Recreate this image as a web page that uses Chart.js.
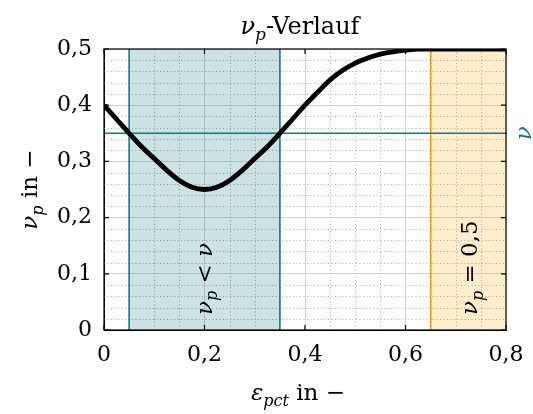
<!DOCTYPE html>
<html lang="de">
<head>
  <meta charset="UTF-8" />
  <title>nu_p-Verlauf</title>
  <style>
    html, body { margin: 0; padding: 0; background: #fff; }
    #wrap { width: 533px; height: 414px; }
  </style>
</head>
<body>
  <div id="wrap"><canvas id="chart" width="533" height="414"></canvas></div>

  <script src="https://cdn.jsdelivr.net/npm/chart.js"></script>
<script>
  // epsilon_pct samples and the nu_p curve read at those points
  const epsPct = [0, 0.025, 0.05, 0.075, 0.1, 0.125, 0.15, 0.175, 0.2, 0.225, 0.25,
    0.275, 0.3, 0.325, 0.35, 0.375, 0.4, 0.425, 0.45, 0.475, 0.5, 0.525, 0.55,
    0.575, 0.6, 0.625, 0.65, 0.675, 0.7, 0.725, 0.75, 0.775, 0.8];
  const nuP = [0.400, 0.375, 0.350, 0.326, 0.305, 0.284, 0.266, 0.254, 0.250, 0.254, 0.266,
    0.284, 0.305, 0.326, 0.350, 0.375, 0.400, 0.423, 0.445, 0.462, 0.475, 0.484, 0.491,
    0.495, 0.498, 0.500, 0.500, 0.500, 0.500, 0.500, 0.500, 0.500, 0.500];

  const nuValue = 0.35;            // horizontal reference line
  const lowBand = [0.05, 0.35];    // region nu_p < nu
  const maxBand = [0.65, 0.8];     // region nu_p = 0,5
  const xRange = [0, 0.8];
  const yRange = [0, 0.5];
  const xTicks = [0, 0.2, 0.4, 0.6, 0.8];
  const yTicks = [0, 0.1, 0.2, 0.3, 0.4, 0.5];

  const TEAL = '#137b7b';
  const ORANGE = '#f7a000';
  const SERIF = '"DejaVu Serif", serif';

  const fmt = v => v === 0 ? '0' : v.toFixed(1).replace('.', ',');

  // text with italic / subscript parts, optionally rotated
  function richText(ctx, parts, x, y, size, color, align, rot) {
    ctx.save();
    ctx.translate(x, y);
    ctx.rotate(rot || 0);
    const fontOf = p => (p[1] ? 'italic ' : '') + (p[2] ? Math.round(size * 0.7) : size) + 'px ' + SERIF;
    let w = 0;
    parts.forEach(p => { ctx.font = fontOf(p); w += ctx.measureText(p[0]).width; });
    let cx = align === 'center' ? -w / 2 : 0;
    ctx.fillStyle = color;
    ctx.textBaseline = 'alphabetic';
    ctx.textAlign = 'left';
    parts.forEach(p => {
      ctx.font = fontOf(p);
      ctx.fillText(p[0], cx, p[2] ? size * 0.24 : 0);
      cx += ctx.measureText(p[0]).width;
    });
    ctx.restore();
  }

  const lineData = (xs, ys) => xs.map((x, i) => ({ x: x, y: ys[i] }));

  // keep the plot box fixed, whatever the tick labels need
  const noPad = s => { s.paddingLeft = 0; s.paddingRight = 0; s.paddingTop = 0; s.paddingBottom = 0; };

  const decorations = {
    id: 'decorations',
    beforeDatasetsDraw(chart) {
      // dotted minor grid
      const { ctx, chartArea: a, scales: { x, y } } = chart;
      ctx.save();
      ctx.strokeStyle = '#a8a8a8';
      ctx.lineWidth = 1;
      ctx.setLineDash([1, 2.5]);
      for (let k = 1; k < 16; k++) {
        if (k % 4 === 0) continue;
        const px = Math.round(x.getPixelForValue(k * 0.05)) + 0.5;
        ctx.beginPath(); ctx.moveTo(px, a.top); ctx.lineTo(px, a.bottom); ctx.stroke();
      }
      for (let k = 1; k < 25; k++) {
        if (k % 5 === 0) continue;
        const py = Math.round(y.getPixelForValue(k * 0.02)) + 0.5;
        ctx.beginPath(); ctx.moveTo(a.left, py); ctx.lineTo(a.right, py); ctx.stroke();
      }
      ctx.restore();
    },
    afterDatasetsDraw(chart) {
      const { ctx, chartArea: a, scales: { x, y } } = chart;
      ctx.save();
      // frame and inward ticks
      ctx.strokeStyle = '#000';
      ctx.lineWidth = 1.2;
      ctx.strokeRect(a.left, a.top, a.right - a.left, a.bottom - a.top);
      ctx.beginPath();
      xTicks.forEach(v => {
        const px = x.getPixelForValue(v);
        ctx.moveTo(px, a.bottom); ctx.lineTo(px, a.bottom - 5);
        ctx.moveTo(px, a.top); ctx.lineTo(px, a.top + 5);
      });
      yTicks.forEach(v => {
        const py = y.getPixelForValue(v);
        ctx.moveTo(a.left, py); ctx.lineTo(a.left + 5, py);
        ctx.moveTo(a.right, py); ctx.lineTo(a.right - 5, py);
      });
      ctx.stroke();
      ctx.restore();

      const up = -Math.PI / 2;
      // band labels
      richText(ctx, [['ν', true], ['p', true, true], [' < ', false], ['ν', true]],
        x.getPixelForValue((lowBand[0] + lowBand[1]) / 2) + 7, a.bottom - 15, 23, '#000', 'left', up);
      richText(ctx, [['ν', true], ['p', true, true], [' = 0,5', false]],
        x.getPixelForValue((maxBand[0] + maxBand[1]) / 2) + 9, a.bottom - 15, 23, '#000', 'left', up);
      // label of the nu line, outside on the right
      richText(ctx, [['ν', true]], 531, y.getPixelForValue(nuValue), 23, TEAL, 'center', up);

      // titles
      richText(ctx, [['ν', true], ['p', true, true], ['-Verlauf', false]], 300, 34, 24, '#000', 'center');
      richText(ctx, [['ε', true], ['pct', true, true], [' in −', false]], 298, 400, 23, '#000', 'center');
      richText(ctx, [['ν', true], ['p', true, true], [' in −', false]], 37, (a.top + a.bottom) / 2, 23, '#000', 'center', up);
    }
  };

  new Chart(document.getElementById('chart'), {
    type: 'line',
    data: {
      datasets: [
        {
          data: lineData(epsPct, nuP),
          borderColor: '#000',
          borderWidth: 4.8,
          pointRadius: 0,
          cubicInterpolationMode: 'monotone',
          fill: false,
          order: 0
        },
        {
          data: lineData(xRange, [nuValue, nuValue]),
          borderColor: TEAL,
          borderWidth: 1.6,
          pointRadius: 0,
          fill: false,
          order: 1
        },
        {
          data: lineData([lowBand[0], lowBand[0]], yRange),
          borderColor: TEAL,
          borderWidth: 1.6,
          pointRadius: 0,
          fill: false,
          order: 2
        },
        {
          data: lineData([lowBand[1], lowBand[1]], yRange),
          borderColor: TEAL,
          borderWidth: 1.6,
          pointRadius: 0,
          fill: false,
          order: 2
        },
        {
          data: lineData([maxBand[0], maxBand[0]], yRange),
          borderColor: ORANGE,
          borderWidth: 1.6,
          pointRadius: 0,
          fill: false,
          order: 2
        },
        {
          data: lineData(lowBand, [yRange[1], yRange[1]]),
          borderWidth: 0,
          pointRadius: 0,
          backgroundColor: 'rgba(19, 123, 123, 0.21)',
          fill: 'origin',
          order: 3
        },
        {
          data: lineData(maxBand, [yRange[1], yRange[1]]),
          borderWidth: 0,
          pointRadius: 0,
          backgroundColor: 'rgba(255, 165, 0, 0.2)',
          fill: 'origin',
          order: 3
        }
      ]
    },
    options: {
      responsive: false,
      animation: false,
      events: [],
      layout: { padding: { top: 49, right: 27, left: 0, bottom: 0 } },
      plugins: {
        legend: { display: false },
        tooltip: { enabled: false },
        title: { display: false }
      },
      scales: {
        x: {
          type: 'linear',
          min: xRange[0],
          max: xRange[1],
          afterFit: s => { s.height = 84; noPad(s); },
          afterBuildTicks: s => { s.ticks = xTicks.map(v => ({ value: v })); },
          ticks: {
            padding: 12,
            color: '#000',
            font: { family: SERIF, size: 22 },
            callback: v => fmt(v),
            maxRotation: 0
          },
          grid: { color: '#d2d2d2', lineWidth: 1, drawTicks: false },
          border: { color: '#000' }
        },
        y: {
          type: 'linear',
          min: yRange[0],
          max: yRange[1],
          afterFit: s => { s.width = 104; noPad(s); },
          afterBuildTicks: s => { s.ticks = yTicks.map(v => ({ value: v })); },
          ticks: {
            padding: 12,
            color: '#000',
            font: { family: SERIF, size: 22 },
            callback: v => fmt(v)
          },
          grid: { color: '#d2d2d2', lineWidth: 1, drawTicks: false },
          border: { color: '#000' }
        }
      }
    },
    plugins: [decorations]
  });
</script>
</body>
</html>
